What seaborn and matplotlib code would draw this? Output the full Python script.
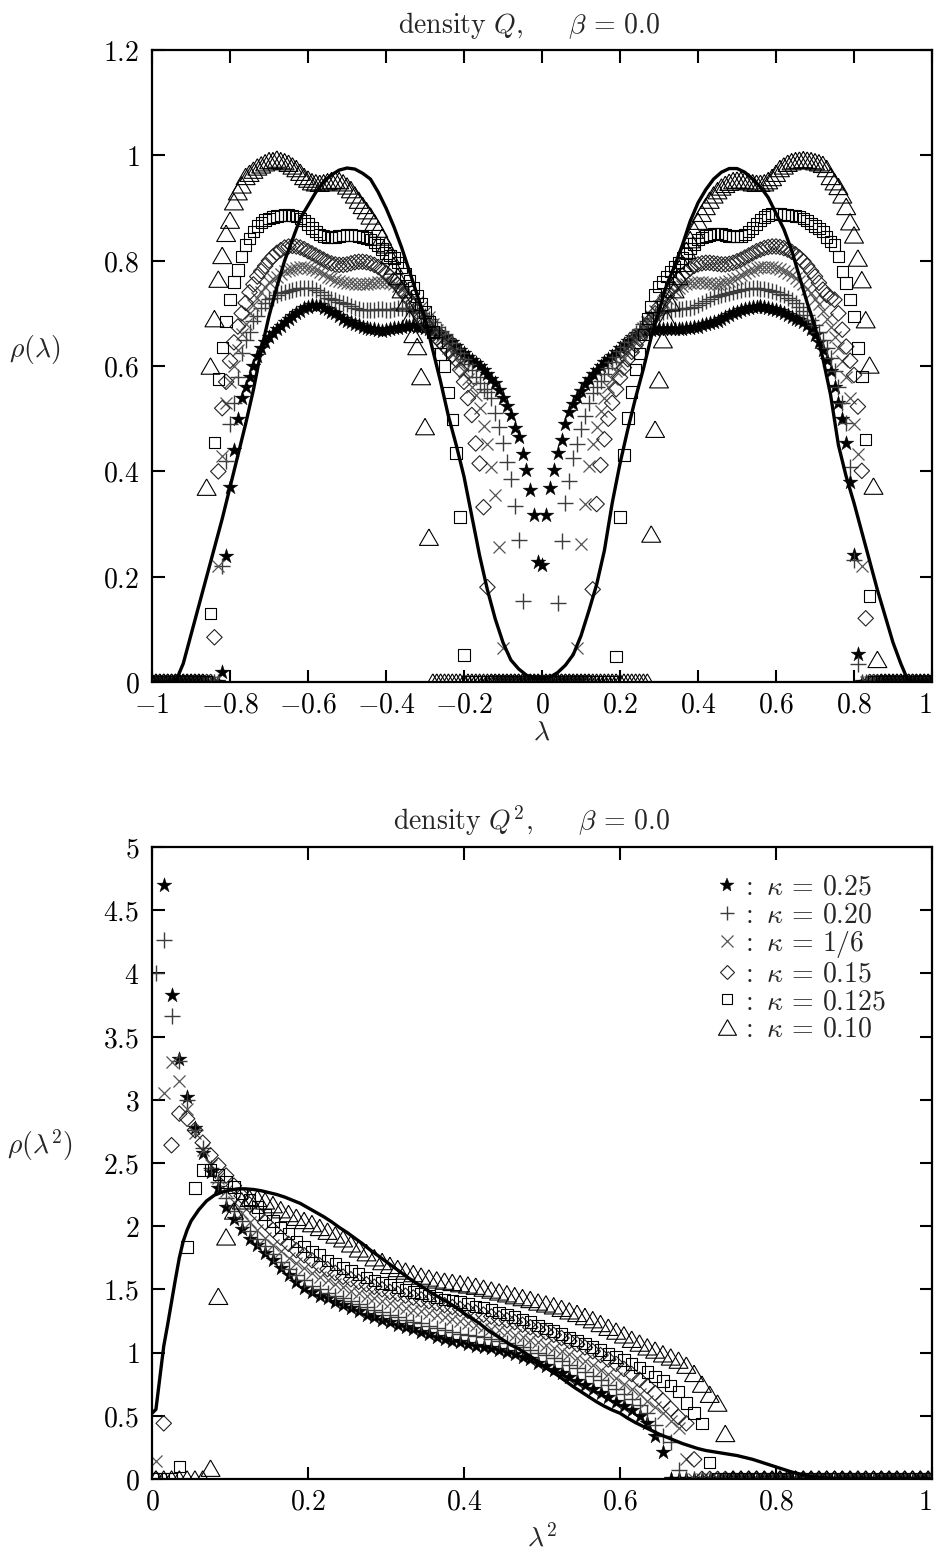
import numpy as np
import matplotlib
matplotlib.use("Agg")
import matplotlib.pyplot as plt
from matplotlib.lines import Line2D
import seaborn as sns

# ------------------------------------------------------------------
# Top panel: density of Q eigenvalues, bins of width 0.01 on [-1, 1]
# ------------------------------------------------------------------
LAM_BINS = np.linspace(-1.0, 1.0, 201)

STAR_Q = [0.0] * 18 + [
    0.02, 0.24, 0.37, 0.44, 0.50, 0.54, 0.56, 0.58, 0.60, 0.62,
    0.635, 0.645, 0.655, 0.663, 0.67, 0.676, 0.684, 0.69, 0.695, 0.70,
    0.705, 0.71, 0.712, 0.715, 0.714, 0.716, 0.711, 0.708, 0.703, 0.70,
    0.695, 0.69, 0.686, 0.683, 0.68, 0.677, 0.675, 0.673, 0.671, 0.67,
    0.668, 0.667, 0.669, 0.67, 0.672, 0.673, 0.675, 0.676, 0.676, 0.677,
    0.675, 0.674, 0.672, 0.67, 0.668, 0.665, 0.661, 0.656, 0.65, 0.645,
    0.638, 0.631, 0.624, 0.618, 0.612, 0.606, 0.60, 0.592, 0.584, 0.576,
    0.568, 0.555, 0.54, 0.524, 0.507, 0.482, 0.466, 0.433, 0.403, 0.365,
    0.317, 0.228, 0.222, 0.317, 0.368, 0.402, 0.434, 0.46, 0.49, 0.512,
    0.527, 0.542, 0.553, 0.565, 0.575, 0.585, 0.593, 0.60, 0.607, 0.613,
    0.62, 0.627, 0.634, 0.641, 0.648, 0.655, 0.66, 0.665, 0.667, 0.668,
    0.669, 0.669, 0.67, 0.67, 0.67, 0.67, 0.67, 0.671, 0.671, 0.672,
    0.673, 0.674, 0.675, 0.677, 0.679, 0.681, 0.683, 0.686, 0.69, 0.694,
    0.697, 0.70, 0.703, 0.706, 0.709, 0.711, 0.712, 0.713, 0.714, 0.713,
    0.711, 0.709, 0.707, 0.705, 0.70, 0.697, 0.693, 0.69, 0.688, 0.683,
    0.677, 0.67, 0.658, 0.645, 0.63, 0.612, 0.59, 0.56, 0.53, 0.50,
    0.453, 0.38, 0.241, 0.054] + [0.0] * 19

PLUS_Q = [0.0] * 18 + [
    0.22, 0.42, 0.49, 0.53, 0.58, 0.625, 0.65, 0.665, 0.685, 0.695,
    0.71, 0.72, 0.727, 0.73, 0.735, 0.738, 0.74, 0.742, 0.745, 0.747,
    0.748, 0.748, 0.748, 0.748, 0.745, 0.74, 0.735, 0.73, 0.728, 0.725,
    0.722, 0.72, 0.717, 0.714, 0.711, 0.709, 0.707, 0.706, 0.706, 0.707,
    0.708, 0.708, 0.707, 0.707, 0.708, 0.71, 0.71, 0.71, 0.708, 0.705,
    0.702, 0.70, 0.695, 0.69, 0.683, 0.675, 0.667, 0.66, 0.652, 0.643,
    0.633, 0.624, 0.614, 0.603, 0.592, 0.58, 0.567, 0.557, 0.55, 0.54,
    0.511, 0.485, 0.453, 0.417, 0.385, 0.334, 0.27, 0.154] + [0.0] * 8 + [
    0.15, 0.268, 0.34, 0.382, 0.425, 0.452, 0.48, 0.505, 0.53, 0.548,
    0.56, 0.572, 0.585, 0.597, 0.608, 0.618, 0.628, 0.637, 0.646, 0.655,
    0.663, 0.671, 0.679, 0.686, 0.692, 0.697, 0.70, 0.703, 0.705, 0.707,
    0.708, 0.709, 0.709, 0.71, 0.711, 0.713, 0.716, 0.72, 0.724, 0.728,
    0.731, 0.733, 0.735, 0.737, 0.739, 0.741, 0.743, 0.745, 0.746, 0.747,
    0.748, 0.748, 0.747, 0.746, 0.744, 0.742, 0.74, 0.737, 0.734, 0.73,
    0.726, 0.72, 0.713, 0.705, 0.697, 0.688, 0.677, 0.665, 0.65, 0.635,
    0.615, 0.59, 0.56, 0.53, 0.491, 0.409, 0.232, 0.035] + [0.0] * 19

CROSS_Q = [0.0] * 17 + [
    0.22, 0.43, 0.53, 0.57, 0.60, 0.63, 0.66, 0.68, 0.70, 0.715,
    0.73, 0.74, 0.75, 0.76, 0.765, 0.77, 0.775, 0.78, 0.783, 0.785,
    0.787, 0.788, 0.788, 0.787, 0.785, 0.782, 0.778, 0.774, 0.77, 0.767,
    0.764, 0.762, 0.76, 0.758, 0.757, 0.756, 0.755, 0.755, 0.756, 0.757,
    0.758, 0.76, 0.76, 0.76, 0.758, 0.755, 0.752, 0.748, 0.744, 0.738,
    0.73, 0.722, 0.713, 0.703, 0.693, 0.68, 0.668, 0.655, 0.645, 0.635,
    0.625, 0.615, 0.603, 0.59, 0.575, 0.56, 0.545, 0.52, 0.487, 0.452,
    0.408, 0.355, 0.256, 0.064] + [0.0] * 18 + [
    0.064, 0.262, 0.339, 0.41, 0.452, 0.485, 0.515, 0.54, 0.56, 0.575,
    0.59, 0.603, 0.615, 0.626, 0.637, 0.648, 0.66, 0.672, 0.684, 0.695,
    0.705, 0.714, 0.722, 0.73, 0.737, 0.743, 0.748, 0.752, 0.755, 0.757,
    0.758, 0.759, 0.759, 0.758, 0.757, 0.756, 0.756, 0.757, 0.759, 0.762,
    0.765, 0.768, 0.772, 0.776, 0.78, 0.783, 0.786, 0.788, 0.789, 0.789,
    0.788, 0.786, 0.784, 0.781, 0.777, 0.773, 0.768, 0.762, 0.755, 0.747,
    0.738, 0.728, 0.717, 0.705, 0.69, 0.675, 0.655, 0.635, 0.61, 0.58,
    0.54, 0.49, 0.433, 0.22] + [0.0] * 18

DIAM_Q = [0.0] * 16 + [
    0.085, 0.40, 0.52, 0.57, 0.61, 0.645, 0.675, 0.70, 0.72, 0.74,
    0.755, 0.77, 0.78, 0.79, 0.80, 0.808, 0.815, 0.82, 0.825, 0.827,
    0.828, 0.827, 0.825, 0.822, 0.818, 0.814, 0.81, 0.806, 0.802, 0.798,
    0.795, 0.793, 0.792, 0.792, 0.793, 0.795, 0.797, 0.798, 0.798, 0.797,
    0.795, 0.792, 0.788, 0.783, 0.777, 0.77, 0.762, 0.754, 0.745, 0.735,
    0.725, 0.714, 0.703, 0.692, 0.682, 0.672, 0.663, 0.654, 0.646, 0.638,
    0.63, 0.621, 0.612, 0.593, 0.57, 0.539, 0.507, 0.453, 0.415, 0.332,
    0.18] + [0.0] * 26 + [
    0.176, 0.338, 0.412, 0.461, 0.50, 0.53, 0.556, 0.578, 0.597, 0.613,
    0.627, 0.64, 0.652, 0.664, 0.676, 0.688, 0.70, 0.712, 0.723, 0.734,
    0.745, 0.755, 0.764, 0.772, 0.779, 0.785, 0.79, 0.793, 0.795, 0.796,
    0.796, 0.795, 0.794, 0.793, 0.793, 0.794, 0.796, 0.799, 0.802, 0.806,
    0.81, 0.814, 0.818, 0.821, 0.824, 0.826, 0.827, 0.827, 0.826, 0.824,
    0.821, 0.817, 0.812, 0.806, 0.799, 0.79, 0.78, 0.77, 0.758, 0.745,
    0.735, 0.73, 0.726, 0.70, 0.669, 0.637, 0.61, 0.583, 0.523, 0.401,
    0.121] + [0.0] * 17

SQUARE_Q = [0.0] * 15 + [
    0.13, 0.455, 0.575, 0.635, 0.685, 0.726, 0.76, 0.782, 0.808, 0.83,
    0.842, 0.855, 0.866, 0.873, 0.877, 0.88, 0.883, 0.885, 0.886, 0.887,
    0.887, 0.886, 0.884, 0.88, 0.876, 0.87, 0.862, 0.855, 0.85, 0.847,
    0.845, 0.844, 0.845, 0.847, 0.848, 0.849, 0.849, 0.848, 0.847, 0.845,
    0.843, 0.84, 0.835, 0.83, 0.822, 0.815, 0.81, 0.805, 0.797, 0.787,
    0.775, 0.762, 0.748, 0.733, 0.718, 0.703, 0.685, 0.665, 0.645, 0.623,
    0.60, 0.55, 0.498, 0.435, 0.313, 0.051] + [0.0] * 38 + [
    0.049, 0.313, 0.431, 0.501, 0.551, 0.593, 0.624, 0.66, 0.69, 0.713,
    0.735, 0.751, 0.76, 0.77, 0.78, 0.789, 0.797, 0.805, 0.814, 0.823,
    0.832, 0.84, 0.844, 0.847, 0.849, 0.851, 0.852, 0.851, 0.849, 0.847,
    0.846, 0.846, 0.847, 0.85, 0.855, 0.862, 0.87, 0.877, 0.883, 0.887,
    0.89, 0.89, 0.889, 0.888, 0.887, 0.886, 0.885, 0.884, 0.88, 0.876,
    0.871, 0.866, 0.861, 0.855, 0.845, 0.836, 0.83, 0.808, 0.78, 0.758,
    0.726, 0.694, 0.634, 0.58, 0.461, 0.163] + [0.0] * 16

TRI_Q = [0.0] * 14 + [
    0.37, 0.60, 0.69, 0.765, 0.81, 0.852, 0.877, 0.912, 0.931, 0.944,
    0.96, 0.966, 0.972, 0.978, 0.982, 0.986, 0.99, 0.99, 0.993, 0.99,
    0.988, 0.985, 0.98, 0.975, 0.968, 0.96, 0.955, 0.95, 0.948, 0.947,
    0.948, 0.95, 0.952, 0.953, 0.952, 0.948, 0.942, 0.935, 0.925, 0.915,
    0.905, 0.895, 0.885, 0.873, 0.86, 0.845, 0.83, 0.81, 0.79, 0.77,
    0.745, 0.72, 0.69, 0.66, 0.637, 0.58, 0.485, 0.275] + [0.0] * 56 + [
    0.281, 0.48, 0.574, 0.65, 0.69, 0.72, 0.745, 0.77, 0.795, 0.82,
    0.84, 0.858, 0.875, 0.89, 0.903, 0.915, 0.925, 0.933, 0.94, 0.945,
    0.949, 0.952, 0.953, 0.953, 0.952, 0.95, 0.948, 0.947, 0.947, 0.948,
    0.952, 0.958, 0.966, 0.975, 0.98, 0.985, 0.988, 0.99, 0.991, 0.992,
    0.991, 0.99, 0.988, 0.986, 0.983, 0.975, 0.96, 0.95, 0.941, 0.925,
    0.903, 0.874, 0.849, 0.805, 0.764, 0.688, 0.602, 0.372, 0.043] + [0.0] * 14

# smooth reference curve for the top panel (step 0.02)
LAM_LINE = np.linspace(-1.0, 1.0, 101)
RHO_LINE = [
    0.0, 0.0, 0.0, 0.0, 0.035, 0.09, 0.145, 0.20, 0.255, 0.31,
    0.37, 0.43, 0.49, 0.555, 0.63, 0.695, 0.75, 0.80, 0.84, 0.88,
    0.905, 0.93, 0.95, 0.963, 0.972, 0.976, 0.974, 0.966, 0.955, 0.93,
    0.90, 0.865, 0.825, 0.78, 0.735, 0.69, 0.63, 0.57, 0.505, 0.45,
    0.39, 0.315, 0.24, 0.175, 0.12, 0.075, 0.042, 0.025, 0.013, 0.008,
    0.007,
    0.009, 0.018, 0.032, 0.052, 0.088, 0.135, 0.185, 0.25, 0.34, 0.415,
    0.48, 0.54, 0.595, 0.655, 0.705, 0.755, 0.79, 0.83, 0.875, 0.91,
    0.935, 0.955, 0.968, 0.975, 0.975, 0.968, 0.955, 0.94, 0.92, 0.89,
    0.86, 0.82, 0.77, 0.72, 0.675, 0.615, 0.545, 0.45, 0.39, 0.34,
    0.285, 0.23, 0.175, 0.125, 0.075, 0.035, 0.0, 0.0, 0.0, 0.0]

# ------------------------------------------------------------------
# Bottom panel: density of Q^2 eigenvalues, bins of width 0.01 on [0, 1]
# ------------------------------------------------------------------
LAM2_BINS = np.linspace(0.005, 0.995, 100)
NA = np.nan  # above the plotted range

STAR_Q2 = [
    NA, 4.70, 3.83, 3.32, 3.02, 2.78, 2.58, 2.43, 2.30, 2.15,
    2.06, 1.98, 1.90, 1.85, 1.79, 1.73, 1.67, 1.61, 1.56, 1.51,
    1.48, 1.45, 1.43, 1.40, 1.38, 1.355, 1.33, 1.30, 1.28, 1.26,
    1.24, 1.22, 1.20, 1.185, 1.165, 1.145, 1.125, 1.11, 1.095, 1.08,
    1.07, 1.055, 1.045, 1.035, 1.02, 1.005, 0.985, 0.965, 0.945, 0.92,
    0.895, 0.865, 0.835, 0.805, 0.775, 0.745, 0.71, 0.68, 0.645, 0.61,
    0.58, 0.545, 0.50, 0.44, 0.34, 0.21] + [0.0] * 34

PLUS_Q2 = [
    4.00, 4.26, 3.66, 3.31, 3.00, 2.76, 2.62, 2.46, 2.35, 2.22,
    2.12, 2.04, 1.96, 1.90, 1.84, 1.78, 1.72, 1.66, 1.61, 1.57,
    1.53, 1.50, 1.47, 1.45, 1.43, 1.41, 1.385, 1.36, 1.34, 1.32,
    1.30, 1.28, 1.26, 1.245, 1.23, 1.21, 1.195, 1.18, 1.165, 1.15,
    1.14, 1.13, 1.12, 1.105, 1.09, 1.075, 1.06, 1.04, 1.02, 1.00,
    0.98, 0.955, 0.93, 0.905, 0.875, 0.845, 0.815, 0.78, 0.745, 0.71,
    0.675, 0.635, 0.585, 0.52, 0.43, 0.34, 0.29, 0.07] + [0.0] * 32

CROSS_Q2 = [
    0.14, 3.05, 3.30, 3.15, 2.93, 2.74, 2.60, 2.48, 2.38, 2.28,
    2.19, 2.10, 2.03, 1.97, 1.91, 1.85, 1.80, 1.75, 1.71, 1.67,
    1.63, 1.60, 1.57, 1.54, 1.52, 1.49, 1.47, 1.45, 1.43, 1.41,
    1.39, 1.37, 1.355, 1.34, 1.325, 1.31, 1.295, 1.28, 1.265, 1.25,
    1.235, 1.22, 1.205, 1.19, 1.175, 1.16, 1.14, 1.12, 1.10, 1.08,
    1.06, 1.035, 1.01, 0.985, 0.96, 0.93, 0.90, 0.865, 0.83, 0.795,
    0.755, 0.715, 0.67, 0.62, 0.57, 0.52, 0.46, 0.40, 0.155] + [0.0] * 31

DIAM_Q2 = [
    0.0, 0.44, 2.64, 2.89, 2.85, 2.76, 2.66, 2.56, 2.48, 2.40,
    2.32, 2.24, 2.17, 2.10, 2.03, 1.97, 1.91, 1.86, 1.81, 1.77,
    1.73, 1.69, 1.66, 1.63, 1.60, 1.58, 1.56, 1.54, 1.52, 1.50,
    1.48, 1.465, 1.45, 1.435, 1.42, 1.405, 1.39, 1.375, 1.36, 1.345,
    1.33, 1.315, 1.30, 1.285, 1.27, 1.255, 1.24, 1.22, 1.20, 1.18,
    1.16, 1.14, 1.115, 1.09, 1.065, 1.04, 1.01, 0.98, 0.945, 0.91,
    0.87, 0.83, 0.785, 0.735, 0.68, 0.62, 0.555, 0.49, 0.44, 0.155] + [0.0] * 30

SQUARE_Q2 = [
    0.0, 0.0, 0.0, 0.10, 1.835, 2.30, 2.445, 2.445, 2.41, 2.35,
    2.31, 2.26, 2.21, 2.15, 2.09, 2.04, 1.99, 1.94, 1.88, 1.84,
    1.80, 1.77, 1.73, 1.70, 1.67, 1.645, 1.62, 1.595, 1.57, 1.55,
    1.54, 1.515, 1.495, 1.48, 1.465, 1.45, 1.435, 1.42, 1.41, 1.40,
    1.385, 1.365, 1.355, 1.335, 1.315, 1.30, 1.28, 1.26, 1.24, 1.215,
    1.19, 1.17, 1.145, 1.12, 1.095, 1.07, 1.045, 1.02, 0.99, 0.965,
    0.94, 0.91, 0.88, 0.845, 0.81, 0.775, 0.74, 0.69, 0.60, 0.52,
    0.44, 0.13] + [0.0] * 28

TRI_Q2 = [
    0.0, 0.0, 0.0, 0.0, 0.0, 0.0, 0.0, 0.085, 1.445, 1.915,
    2.12, 2.20, 2.22, 2.22, 2.20, 2.17, 2.13, 2.10, 2.07, 2.045,
    2.02, 1.99, 1.96, 1.93, 1.90, 1.86, 1.82, 1.79, 1.75, 1.72,
    1.69, 1.665, 1.645, 1.625, 1.605, 1.59, 1.575, 1.565, 1.555, 1.545,
    1.535, 1.525, 1.51, 1.495, 1.48, 1.465, 1.45, 1.435, 1.42, 1.40,
    1.385, 1.37, 1.35, 1.33, 1.31, 1.285, 1.26, 1.23, 1.20, 1.17,
    1.14, 1.105, 1.075, 1.045, 1.02, 0.99, 0.965, 0.94, 0.90, 0.835,
    0.75, 0.67, 0.60, 0.36] + [0.0] * 26

LAM2_LINE = [0.0, 0.005, 0.01, 0.015, 0.02, 0.025, 0.03, 0.035, 0.04, 0.045, 0.05,
             0.06, 0.07, 0.08, 0.09, 0.10, 0.11, 0.12, 0.13, 0.14, 0.15,
             0.16, 0.17, 0.18, 0.19, 0.20, 0.21, 0.22, 0.23, 0.24, 0.25,
             0.26, 0.27, 0.28, 0.29, 0.30, 0.31, 0.32, 0.33, 0.34, 0.35,
             0.36, 0.37, 0.38, 0.39, 0.40, 0.41, 0.42, 0.43, 0.44, 0.45,
             0.46, 0.47, 0.48, 0.49, 0.50, 0.51, 0.52, 0.53, 0.54, 0.55,
             0.56, 0.57, 0.58, 0.59, 0.60, 0.61, 0.62, 0.63, 0.64, 0.65,
             0.66, 0.67, 0.68, 0.69, 0.70, 0.71, 0.72, 0.73, 0.74, 0.75,
             0.76, 0.77, 0.78, 0.79, 0.80, 0.81, 0.82, 0.83, 0.84, 0.85,
             0.86, 0.87, 0.88, 0.90, 0.95, 1.00]
RHO2_LINE = [0.52, 0.55, 0.80, 1.05, 1.22, 1.40, 1.58, 1.75, 1.88, 1.97, 2.04,
             2.13, 2.20, 2.245, 2.27, 2.285, 2.295, 2.295, 2.29, 2.28, 2.265,
             2.25, 2.23, 2.205, 2.18, 2.145, 2.11, 2.075, 2.035, 1.99, 1.95,
             1.905, 1.86, 1.81, 1.765, 1.72, 1.675, 1.63, 1.585, 1.545, 1.505,
             1.465, 1.43, 1.395, 1.355, 1.31, 1.27, 1.23, 1.18, 1.14, 1.10,
             1.06, 1.03, 0.99, 0.95, 0.90, 0.86, 0.82, 0.775, 0.73, 0.69,
             0.65, 0.61, 0.575, 0.545, 0.52, 0.48, 0.445, 0.415, 0.385, 0.355,
             0.33, 0.305, 0.28, 0.26, 0.24, 0.225, 0.215, 0.205, 0.195, 0.185,
             0.17, 0.155, 0.135, 0.115, 0.095, 0.075, 0.055, 0.04, 0.025, 0.015,
             0.008, 0.004, 0.0, 0.0, 0.0, 0.0]

KAPPA_LABELS = ["0.25", "0.20", "1/6", "0.15", "0.125", "0.10"]

XTICKS_TOP = [-1, -0.8, -0.6, -0.4, -0.2, 0, 0.2, 0.4, 0.6, 0.8, 1]
XTICKLABELS_TOP = ["$-1$", "$-0.8$", "$-0.6$", "$-0.4$", "$-0.2$", "$0$",
                   "$0.2$", "$0.4$", "$0.6$", "$0.8$", "$1$"]
YTICKS_TOP = [0, 0.2, 0.4, 0.6, 0.8, 1.0, 1.2]
YTICKLABELS_TOP = ["$0$", "$0.2$", "$0.4$", "$0.6$", "$0.8$", "$1$", "$1.2$"]
XTICKS_BOT = [0, 0.2, 0.4, 0.6, 0.8, 1.0]
XTICKLABELS_BOT = ["$0$", "$0.2$", "$0.4$", "$0.6$", "$0.8$", "$1$"]
YTICKS_BOT = [0, 0.5, 1, 1.5, 2, 2.5, 3, 3.5, 4, 4.5, 5]
YTICKLABELS_BOT = ["$0$", "$0.5$", "$1$", "$1.5$", "$2$", "$2.5$", "$3$",
                   "$3.5$", "$4$", "$4.5$", "$5$"]

for arr in (STAR_Q, PLUS_Q, CROSS_Q, DIAM_Q, SQUARE_Q, TRI_Q):
    assert len(arr) == 201, len(arr)
for arr in (STAR_Q2, PLUS_Q2, CROSS_Q2, DIAM_Q2, SQUARE_Q2, TRI_Q2):
    assert len(arr) == 100, len(arr)
assert len(RHO_LINE) == 101, len(RHO_LINE)
assert len(LAM2_LINE) == len(RHO2_LINE), (len(LAM2_LINE), len(RHO2_LINE))

# ------------------------------------------------------------------
sns.set_style("ticks")
plt.rcParams.update({
    "font.family": ["DejaVu Serif"],
    "mathtext.fontset": "cm",
    "axes.linewidth": 1.6,
    "axes.edgecolor": "black",
})

TRI_MARK = [(0.0, 1.0), (-1.155, -1.0), (1.155, -1.0), (0.0, 1.0)]
GREY_P = "#3c3c3c"
GREY_X = "#555555"

# marker styles (order of drawing = order of the legend)
STYLES = [
    dict(marker="*", s=125, color="black", edgecolor="black", linewidth=0.3),
    dict(marker="+", s=120, color=GREY_P, edgecolor=GREY_P, linewidth=1.0),
    dict(marker="x", s=75, color=GREY_X, edgecolor=GREY_X, linewidth=0.9),
    dict(marker="D", s=62, facecolor="none", edgecolor="#222222", linewidth=0.8),
    dict(marker="s", s=68, facecolor="none", edgecolor="black", linewidth=0.8),
    dict(marker=TRI_MARK, s=185, facecolor="none", edgecolor="black", linewidth=0.8),
]

fig = plt.figure(figsize=(9.35, 15.54), dpi=100)
ax1 = fig.add_axes([0.1626, 0.5611, 0.8342, 0.4067])
ax2 = fig.add_axes([0.1626, 0.0483, 0.8342, 0.4067])

top_series = [STAR_Q, PLUS_Q, CROSS_Q, DIAM_Q, SQUARE_Q, TRI_Q]
bot_series = [STAR_Q2, PLUS_Q2, CROSS_Q2, DIAM_Q2, SQUARE_Q2, TRI_Q2]

for ys, st in zip(top_series, STYLES):
    sns.scatterplot(x=LAM_BINS, y=np.array(ys, dtype=float), ax=ax1,
                    legend=False, zorder=3, clip_on=True, **st)
sns.lineplot(x=LAM_LINE, y=RHO_LINE, ax=ax1, color="black", linewidth=2.4,
             sort=False, estimator=None, zorder=5)

for ys, st in zip(bot_series, STYLES):
    sns.scatterplot(x=LAM2_BINS, y=np.array(ys, dtype=float), ax=ax2,
                    legend=False, zorder=3, clip_on=True, **st)
sns.lineplot(x=LAM2_LINE, y=RHO2_LINE, ax=ax2, color="black", linewidth=2.4,
             sort=False, estimator=None, zorder=5)

# axes cosmetics
ax1.set_xlim(-1, 1)
ax1.set_ylim(0, 1.2)
ax1.set_xticks(XTICKS_TOP)
ax1.set_xticklabels(XTICKLABELS_TOP)
ax1.set_yticks(YTICKS_TOP)
ax1.set_yticklabels(YTICKLABELS_TOP)
ax2.set_xlim(0, 1)
ax2.set_ylim(0, 5)
ax2.set_xticks(XTICKS_BOT)
ax2.set_xticklabels(XTICKLABELS_BOT)
ax2.set_yticks(YTICKS_BOT)
ax2.set_yticklabels(YTICKLABELS_BOT)

for ax in (ax1, ax2):
    ax.tick_params(axis="y", which="both", direction="in", left=True, right=True,
                   length=9, width=1.5, labelsize=20, pad=9, colors="black")
    ax.tick_params(axis="x", which="both", direction="in", top=True, bottom=True,
                   length=9, width=1.5, labelsize=20, pad=7, colors="black")
    for sp in ax.spines.values():
        sp.set_visible(True)
        sp.set_linewidth(1.6)
        sp.set_zorder(6)
    ax.grid(False)
    # keep the last x tick label ("1") inside the figure edge
    ax.get_xticklabels()[-1].set_horizontalalignment("right")

ax1.set_title(r"$\mathrm{density}\ Q,\quad\ \ \beta\, =\, 0.0$", fontsize=20,
              pad=12, x=0.483)
ax2.set_title(r"$\mathrm{density}\ Q^2,\quad\ \ \beta\, =\, 0.0$", fontsize=20,
              pad=12, x=0.487)
ax1.set_xlabel(r"$\lambda$", fontsize=20, labelpad=0)
ax2.set_xlabel(r"$\lambda^2$", fontsize=20, labelpad=6)
ax1.set_ylabel(r"$\rho(\lambda)$", fontsize=20, rotation=0)
ax2.set_ylabel(r"$\rho(\lambda^2)$", fontsize=20, rotation=0)
ax1.yaxis.set_label_coords(-0.150, 0.50)
ax2.yaxis.set_label_coords(-0.144, 0.50)

# legend (bottom panel)
handles = []
for st in STYLES:
    fc = st.get("facecolor", st.get("color"))
    ec = st.get("edgecolor")
    ms = np.sqrt(st["s"]) * 0.95
    handles.append(Line2D([], [], linestyle="none", marker=st["marker"],
                          markersize=ms, markerfacecolor=fc,
                          markeredgecolor=ec, markeredgewidth=st["linewidth"]))
labels = [r"$:\ \kappa\, =\, %s$" % k for k in KAPPA_LABELS]
leg = ax2.legend(handles, labels, loc="upper right",
                 bbox_to_anchor=(0.955, 0.975), frameon=False, fontsize=20,
                 handlelength=0.8, handletextpad=0.1, labelspacing=0.02,
                 borderaxespad=0.0, markerfirst=True)

fig.savefig("out.png", dpi=100)
